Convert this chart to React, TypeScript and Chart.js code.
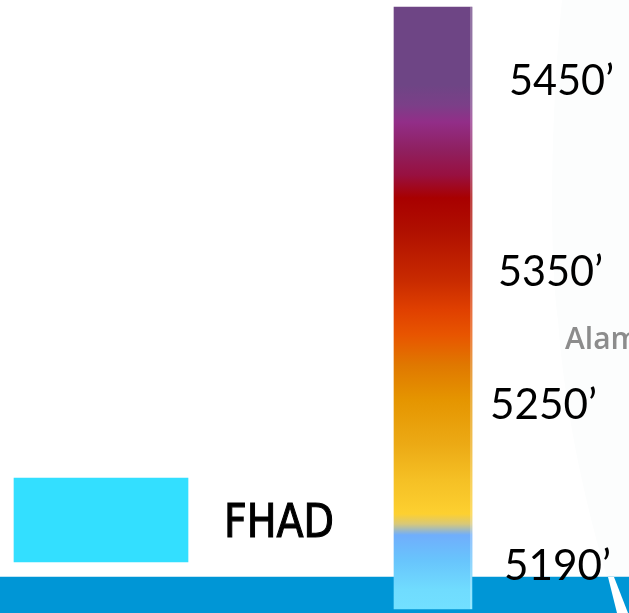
import React, { useEffect, useRef } from "react";
import { Chart, registerables } from "chart.js";

Chart.register(...registerables);

// Data
const elevations = [5450, 5350, 5250, 5190];
const legendLabel = "FHAD";
const mapLabel = "Alam";

// Colour ramp of the elevation bar
const rampColors = ["#6e4585", "#6e4585", "#7b3f88", "#922e88", "#8f2060", "#981040", "#a80000", "#b01000", "#c82a00", "#e04000", "#e85500", "#e07800", "#e59500", "#ecaa15", "#f5c025", "#fdd030", "#d8c878", "#70aefc", "#68c4fc", "#70dcfe", "#72e0ff"];
const rampStops = [7, 85, 105, 122, 150, 175, 198, 232, 280, 310, 335, 365, 400, 445, 480, 514, 524, 535, 560, 590, 609];

// Layout, in picture units
const W = 629;
const H = 613;
const barBox = { left: 394, right: 472, top: 7, bottom: 609 };
const stripBox = { left: 0, right: 629, top: 577, bottom: 613 };
const swatchBox = { left: 14, right: 188, top: 478, bottom: 562 };
const labelBox = [
  { x: 509, y: 95, w: 105 },
  { x: 498, y: 286, w: 105 },
  { x: 490, y: 419, w: 107 },
  { x: 504, y: 580, w: 107 },
];

const centre = (b: { left: number; right: number }) => (b.left + b.right) / 2;
const span = (b: { left: number; right: number }) => b.right - b.left;

const decor = {
  id: "decor",
  beforeDatasetsDraw(chart: any) {
    const { ctx, scales } = chart;
    const X = (v: number) => scales.x.getPixelForValue(v);
    const Y = (v: number) => scales.y.getPixelForValue(v);
    ctx.save();
    ctx.fillStyle = "#fcfdfd";
    ctx.beginPath();
    ctx.moveTo(X(562), Y(0));
    ctx.bezierCurveTo(X(552), Y(100), X(548), Y(240), X(558), Y(320));
    ctx.bezierCurveTo(X(565), Y(420), X(590), Y(520), X(607), Y(577));
    ctx.lineTo(X(629), Y(577));
    ctx.lineTo(X(629), Y(0));
    ctx.closePath();
    ctx.fill();
    ctx.restore();
  },
  afterDatasetsDraw(chart: any) {
    const { ctx, scales } = chart;
    const X = (v: number) => scales.x.getPixelForValue(v);
    const Y = (v: number) => scales.y.getPixelForValue(v);
    ctx.save();
    // lighter right edge of the colour bar
    ctx.fillStyle = "rgba(255,255,255,0.25)";
    ctx.fillRect(X(470), Y(barBox.top), 2, Y(barBox.bottom) - Y(barBox.top));
    // white streak over the strip
    ctx.fillStyle = "#ffffff";
    ctx.beginPath();
    ctx.moveTo(X(608), Y(577));
    ctx.lineTo(X(614), Y(577));
    ctx.lineTo(X(628), Y(613));
    ctx.lineTo(X(617), Y(613));
    ctx.closePath();
    ctx.fill();
    ctx.textBaseline = "alphabetic";
    ctx.textAlign = "left";
    // map text
    ctx.fillStyle = "#8c8c8c";
    ctx.font = "600 30px 'Open Sans'";
    ctx.fillText(mapLabel, X(565), Y(349));
    // elevation labels
    ctx.fillStyle = "#000000";
    ctx.font = "43px Lato";
    elevations.forEach((e, i) => {
      const b = labelBox[i];
      ctx.fillText(`${e}’`, X(b.x), Y(b.y), b.w);
    });
    // legend text
    ctx.font = "47px 'DejaVu Sans'";
    ctx.strokeStyle = "#000000";
    ctx.lineWidth = 1.2;
    ctx.strokeText(legendLabel, X(224), Y(537), 110);
    ctx.fillText(legendLabel, X(224), Y(537), 110);
    ctx.restore();
  },
};

export default function App() {
  const ref = useRef<HTMLCanvasElement>(null);
  useEffect(() => {
    document.body.style.margin = "0";
    const canvas = ref.current!;
    const gctx = canvas.getContext("2d")!;
    const grad = gctx.createLinearGradient(0, barBox.top, 0, barBox.bottom);
    rampStops.forEach((s, i) => {
      grad.addColorStop((s - barBox.top) / (barBox.bottom - barBox.top), rampColors[i]);
    });
    const chart = new Chart(canvas, {
      type: "bar",
      data: {
        datasets: [
          {
            label: "strip",
            data: [{ x: centre(stripBox), y: [stripBox.top, stripBox.bottom] }],
            backgroundColor: "#0096d6",
            barThickness: span(stripBox),
            grouped: false,
            order: 3,
          },
          {
            label: legendLabel,
            data: [{ x: centre(swatchBox), y: [swatchBox.top, swatchBox.bottom] }],
            backgroundColor: "#33dfff",
            barThickness: span(swatchBox),
            grouped: false,
            order: 2,
          },
          {
            label: "elevation",
            data: [{ x: centre(barBox), y: [barBox.top, barBox.bottom] }],
            backgroundColor: grad,
            barThickness: span(barBox),
            grouped: false,
            order: 1,
          },
        ] as any,
      },
      options: {
        responsive: false,
        animation: false,
        devicePixelRatio: 1,
        layout: { padding: 0 },
        plugins: { legend: { display: false }, tooltip: { enabled: false }, title: { display: false } },
        scales: {
          x: { type: "linear", min: 0, max: W, display: false, offset: false },
          y: { type: "linear", min: 0, max: H, reverse: true, display: false },
        },
      },
      plugins: [decor],
    } as any);
    return () => chart.destroy();
  }, []);
  return <canvas ref={ref} width={W} height={H} style={{ display: "block", width: W, height: H }} />;
}
